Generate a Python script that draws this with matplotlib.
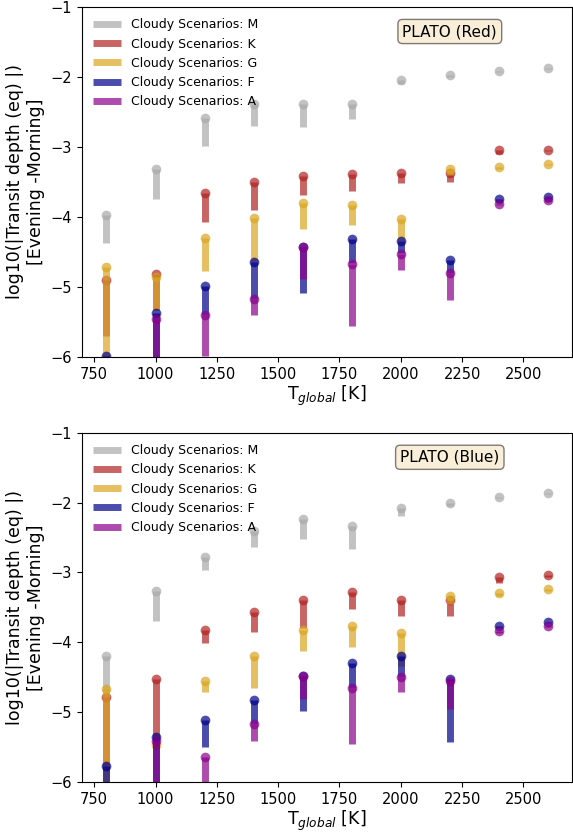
import numpy as np
import matplotlib
matplotlib.use("Agg")
import matplotlib.pyplot as plt

temps = [800, 1000, 1200, 1400, 1600, 1800, 2000, 2200, 2400, 2600]
types = ["M", "K", "G", "F", "A"]
colors = {"M": "darkgray", "K": "firebrick", "G": "goldenrod", "F": "darkblue", "A": "darkmagenta"}

# PLATO red band: dot value and lower end of the bar, per stellar type
red_top = {
    "M": [-3.97, -3.31, -2.58, -2.38, -2.38, -2.38, -2.04, -1.97, -1.91, -1.87],
    "K": [-4.90, -4.82, -3.66, -3.50, -3.41, -3.39, -3.37, -3.37, -3.05, -3.04],
    "G": [-4.71, -4.86, -4.30, -4.02, -3.80, -3.83, -4.03, -3.32, -3.29, -3.25],
    "F": [-5.99, -5.37, -4.99, -4.64, -4.43, -4.32, -4.35, -4.62, -3.74, -3.72],
    "A": [-6.30, -5.46, -5.40, -5.17, -4.43, -4.67, -4.53, -4.80, -3.81, -3.76],
}
red_bottom = {
    "M": [-4.37, -3.74, -2.99, -2.70, -2.71, -2.60, -2.10, -2.00, -1.93, -1.88],
    "K": [-5.70, -5.33, -4.07, -3.90, -3.69, -3.63, -3.51, -3.50, -3.10, -3.06],
    "G": [-6.20, -5.33, -4.77, -4.64, -4.17, -4.11, -4.35, -3.40, -3.31, -3.26],
    "F": [-6.30, -6.20, -5.40, -5.17, -5.08, -4.66, -4.52, -4.80, -3.78, -3.74],
    "A": [-6.50, -6.20, -5.99, -5.40, -4.89, -5.56, -4.76, -5.19, -3.83, -3.78],
}

# PLATO blue band
blue_top = {
    "M": [-4.19, -3.27, -2.78, -2.41, -2.24, -2.34, -2.07, -2.00, -1.92, -1.86],
    "K": [-4.79, -4.52, -3.83, -3.57, -3.40, -3.28, -3.39, -3.39, -3.07, -3.04],
    "G": [-4.67, -5.47, -4.56, -4.19, -3.83, -3.77, -3.87, -3.34, -3.30, -3.24],
    "F": [-5.77, -5.36, -5.11, -4.83, -4.48, -4.30, -4.20, -4.52, -3.76, -3.71],
    "A": [-6.30, -5.41, -5.64, -5.17, -4.48, -4.65, -4.49, -4.56, -3.84, -3.76],
}
blue_bottom = {
    "M": [-4.70, -3.70, -2.96, -2.64, -2.52, -2.66, -2.19, -2.05, -1.94, -1.88],
    "K": [-5.77, -5.39, -4.01, -3.85, -3.80, -3.53, -3.63, -3.62, -3.15, -3.07],
    "G": [-6.20, -5.50, -4.71, -4.66, -4.13, -4.06, -4.34, -3.45, -3.33, -3.26],
    "F": [-6.20, -6.20, -5.50, -5.17, -4.98, -4.65, -4.49, -5.43, -3.79, -3.73],
    "A": [-6.50, -6.20, -6.20, -5.41, -4.81, -5.46, -4.71, -4.96, -3.86, -3.78],
}


def plot_panel(ax, top, bottom, band):
    for st in types:
        ax.vlines(temps, bottom[st], top[st], colors=colors[st], lw=5, alpha=0.7,
                  label=f"Cloudy Scenarios: {st}")
        ax.plot(temps, top[st], "o", color=colors[st], ms=7, alpha=0.7, mec="none")
    ax.set_xlim(700, 2700)
    ax.set_ylim(-6, -1)
    ax.set_xlabel("T$_{global}$ [K]", fontsize=12.5, labelpad=1.5)
    ax.set_ylabel("log10(|Transit depth (eq) |)\n[Evening -Morning]", fontsize=12.5)
    ax.tick_params(labelsize=10.5)
    ax.legend(loc="upper left", fontsize=9, frameon=False, handlelength=2.2)
    ax.text(0.75, 0.93, f"PLATO ({band})", transform=ax.transAxes, fontsize=11,
            ha="center", va="center",
            bbox=dict(boxstyle="round", facecolor="wheat", alpha=0.5))


fig, (ax1, ax2) = plt.subplots(2, 1, figsize=(5.73, 8.34))
plot_panel(ax1, red_top, red_bottom, "Red")
plot_panel(ax2, blue_top, blue_bottom, "Blue")
ax1.set_position([0.143, 0.572, 0.856, 0.4196])
ax2.set_position([0.143, 0.0624, 0.856, 0.4186])
fig.savefig("out.png", dpi=100)
